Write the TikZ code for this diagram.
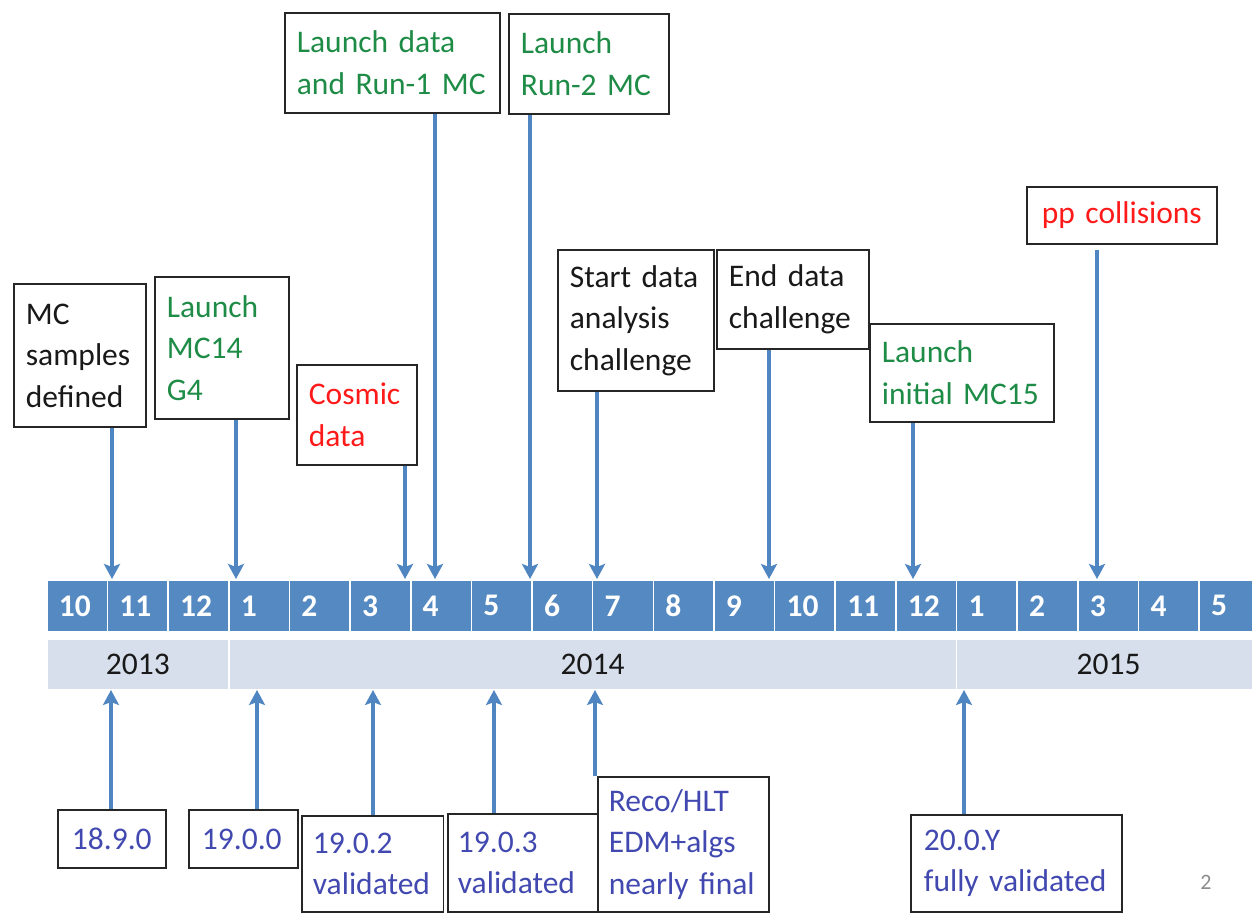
\documentclass[tikz,border=0pt]{standalone}
\usepackage{fontspec}
\setmainfont{Carlito}[WordSpace=0.85]
\usetikzlibrary{arrows.meta}
\hyphenpenalty=10000

\definecolor{monthblue}{HTML}{5589C1}
\definecolor{yeargrey}{HTML}{D6DFEB}
\definecolor{pinblue}{HTML}{4F86C2}
\definecolor{mcgreen}{HTML}{1E8C46}
\definecolor{evred}{HTML}{FF1A1A}
\definecolor{relblue}{HTML}{4149B0}

\begin{document}
\begin{tikzpicture}[x=1pt,y=-1pt,
    every node/.style={font=\fontsize{31.5}{41.5}\selectfont},
    month/.style={draw=white,line width=1.6pt,fill=monthblue,text=white,
      font=\fontsize{31.5}{41.5}\selectfont\bfseries,anchor=north west,
      inner xsep=12pt,inner ysep=0pt,text width=36.65pt,minimum height=52pt,align=left},
    year/.style={draw=white,line width=1.6pt,fill=yeargrey,text=black!90,
      anchor=north west,minimum height=51pt,inner sep=0pt},
    evbox/.style={draw=black!85,line width=1.8pt,fill=white,anchor=north west,
      inner xsep=12pt,inner ysep=0pt,align=left},
    evarrow/.style={draw=pinblue,line width=4.3pt,
      -{Stealth[length=15pt,width=16pt,inset=3pt]}},
  ]
  \useasboundingbox (0,0) rectangle (1252,913);
  \clip (0,0) rectangle (1252,913);
  \begin{scope}

    \node[month] (m13oct) at (46,579) {10};
    \node[month] (m13nov) at (106.65,579) {11};
    \node[month] (m13dec) at (167.3,579) {12};
    \node[month] (m14jan) at (227.95,579) {1};
    \node[month] (m14feb) at (288.6,579) {2};
    \node[month] (m14mar) at (349.25,579) {3};
    \node[month] (m14apr) at (409.9,579) {4};
    \node[month] (m14may) at (470.55,579) {5};
    \node[month] (m14jun) at (531.2,579) {6};
    \node[month] (m14jul) at (591.85,579) {7};
    \node[month] (m14aug) at (652.5,579) {8};
    \node[month] (m14sep) at (713.15,579) {9};
    \node[month] (m14oct) at (773.8,579) {10};
    \node[month] (m14nov) at (834.45,579) {11};
    \node[month] (m14dec) at (895.1,579) {12};
    \node[month] (m15jan) at (955.75,579) {1};
    \node[month] (m15feb) at (1016.4,579) {2};
    \node[month] (m15mar) at (1077.05,579) {3};
    \node[month] (m15apr) at (1137.7,579) {4};
    \node[month] (m15may) at (1198.35,579) {5};

    \node[year,minimum width=181.95pt] (y2013) at (46,638) {2013};
    \node[year,minimum width=727.8pt] (y2014) at (227.95,638) {2014};
    \node[year,minimum width=304pt] (y2015) at (955.75,638) {2015};

    \node[evbox,text=black!90,text width=108pt,minimum height=143pt] (mcdef) at (13,283) {MC\\samples\\defined};
    \node[evbox,text=mcgreen,text width=110pt,minimum height=142pt] (mc14) at (154,276) {Launch\\MC14\\G4};
    \node[evbox,text=evred,text width=96pt,minimum height=100pt] (cosmic) at (296,364) {Cosmic\\data};
    \node[evbox,text=mcgreen,text width=191pt,minimum height=100pt] (runone) at (284,12) {Launch data\\and Run-1 MC};
    \node[evbox,text=mcgreen,text width=136pt,minimum height=100pt] (runtwo) at (508,13) {Launch\\Run-2 MC};
    \node[evbox,text=black!90,text width=132pt,minimum height=141pt] (dcstart) at (557,249) {Start data\\analysis\\challenge};
    \node[evbox,text=black!90,text width=128pt,minimum height=99pt] (dcend) at (716,249) {End data\\challenge};
    \node[evbox,text=mcgreen,text width=160pt,minimum height=98pt] (mc15) at (869,323) {Launch\\initial MC15};
    \node[evbox,text=evred,inner xsep=15pt,text width=160pt,minimum height=57pt] (ppcoll) at (1026,186) {pp collisions};

    \node[evbox,text=relblue,inner xsep=14pt,text width=80pt,minimum height=58pt] (r1890) at (57,809) {18.9.0};
    \node[evbox,text=relblue,inner xsep=13pt,text width=83pt,minimum height=58pt] (r1900) at (188,809) {19.0.0};
    \node[evbox,text=relblue,inner xsep=11pt,text width=119.5pt,minimum height=96pt] (r1902) at (301,815) {19.0.2\\validated};
    \node[evbox,text=relblue,inner xsep=10pt,text width=130pt,minimum height=98pt] (r1903) at (447,813) {19.0.3\\validated};
    \node[evbox,text=relblue,inner xsep=11pt,text width=149pt,minimum height=135pt] (recohlt) at (597,776) {Reco/HLT\\EDM+algs\\nearly final};
    \node[evbox,text=relblue,inner xsep=13pt,text width=185pt,minimum height=97pt] (r200y) at (910,814) {20.0.Y\\fully validated};

    \node[text=black!45,font=\fontsize{22}{26}\selectfont] (pageno) at (1206,882) {2};

    \coordinate (d1) at (112,579);
    \coordinate (d2) at (236,579);
    \coordinate (d3) at (405,579);
    \coordinate (d4) at (435,579);
    \coordinate (d5) at (530,579);
    \coordinate (d6) at (597,579);
    \coordinate (d7) at (769,579);
    \coordinate (d8) at (913,579);
    \coordinate (d9) at (1097,579);

    \coordinate (u1) at (111,690);
    \coordinate (u2) at (257,690);
    \coordinate (u3) at (373,690);
    \coordinate (u4) at (494,690);
    \coordinate (u5) at (595,690);
    \coordinate (u6) at (964,690);

    \draw[evarrow] (mcdef.south -| d1) -- (d1);
    \draw[evarrow] (mc14.south -| d2) -- (d2);
    \draw[evarrow] (cosmic.south -| d3) -- (d3);
    \draw[evarrow] (runone.south -| d4) -- (d4);
    \draw[evarrow] (runtwo.south -| d5) -- (d5);
    \draw[evarrow] (dcstart.south -| d6) -- (d6);
    \draw[evarrow] (dcend.south -| d7) -- (d7);
    \draw[evarrow] (mc15.south -| d8) -- (d8);
    \draw[evarrow,shorten <=5pt] (ppcoll.south -| d9) -- (d9);

    \draw[evarrow] (r1890.north -| u1) -- (u1);
    \draw[evarrow] (r1900.north -| u2) -- (u2);
    \draw[evarrow] (r1902.north -| u3) -- (u3);
    \draw[evarrow] (r1903.north -| u4) -- (u4);
    \draw[evarrow] (recohlt.north -| u5) -- (u5);
    \draw[evarrow] (r200y.north -| u6) -- (u6);

  \end{scope}
\end{tikzpicture}
\end{document}
